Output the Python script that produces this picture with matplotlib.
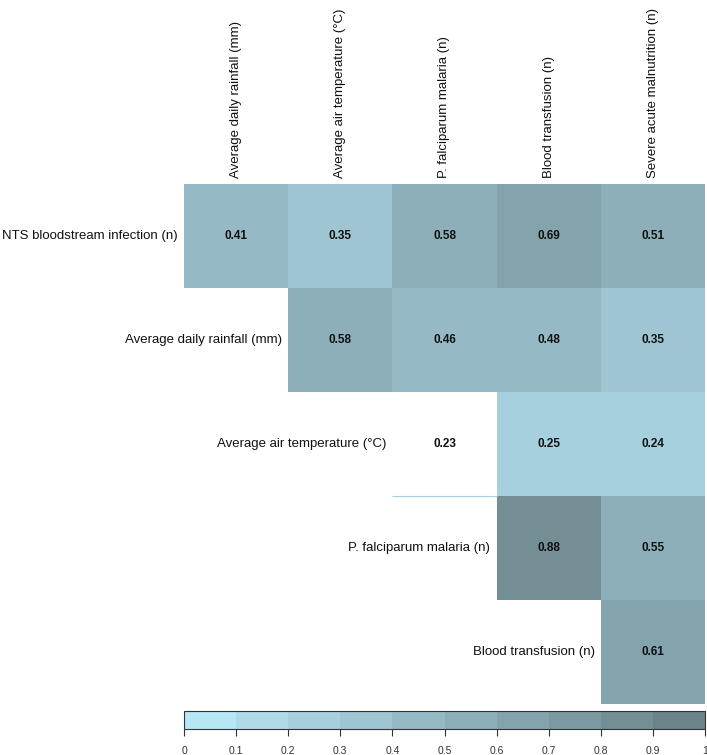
import numpy as np
import matplotlib
matplotlib.use("Agg")
import matplotlib.pyplot as plt
from matplotlib.colors import ListedColormap, BoundaryNorm
import matplotlib.colorbar as mcolorbar

plt.rcParams['font.family'] = ['Liberation Sans', 'DejaVu Sans']

row_labels = ["NTS bloodstream infection (n)", "Average daily rainfall (mm)",
              "Average air temperature (°C)", "P. falciparum malaria (n)",
              "Blood transfusion (n)"]
col_labels = ["Average daily rainfall (mm)", "Average air temperature (°C)",
              "P. falciparum malaria (n)", "Blood transfusion (n)",
              "Severe acute malnutrition (n)"]
values = [
    [0.41, 0.35, 0.58, 0.69, 0.51],
    [None, 0.58, 0.46, 0.48, 0.35],
    [None, None, 0.23, 0.25, 0.24],
    [None, None, None, 0.88, 0.55],
    [None, None, None, None, 0.61],
]
significant = [
    [True, True, True, True, True],
    [False, True, True, True, True],
    [False, False, False, True, True],
    [False, False, False, True, True],
    [False, False, False, False, True],
]
cbar_ticks = [0, 0.1, 0.2, 0.3, 0.4, 0.5, 0.6, 0.7, 0.8, 0.9, 1]
cbar_ticklabels = ["0", "0.1", "0.2", "0.3", "0.4", "0.5", "0.6", "0.7", "0.8", "0.9", "1"]

c0 = np.array([183, 230, 245]) / 255
c9 = np.array([107, 131, 137]) / 255
colors = [tuple(c0 + (c9 - c0) * i / 9) for i in range(10)]
cmap = ListedColormap(colors)
norm = BoundaryNorm(cbar_ticks, cmap.N)

W, H = 707, 755
fig = plt.figure(figsize=(W / 100, H / 100), dpi=100)
ax = fig.add_axes([184 / W, 1 - 704 / H, (705 - 184) / W, (704 - 184) / H])

nr, nc = len(row_labels), len(col_labels)
data = np.full((nr, nc), np.nan)
for i in range(nr):
    for j in range(nc):
        if values[i][j] is not None and significant[i][j]:
            data[i, j] = values[i][j]
masked = np.ma.masked_invalid(data)
ax.pcolormesh(np.arange(nc + 1), np.arange(nr + 1), masked, cmap=cmap, norm=norm,
              edgecolors='none', antialiased=False)
ax.set_xlim(0, nc)
ax.set_ylim(nr, 0)
ax.axis('off')

for i in range(nr):
    for j in range(nc):
        if values[i][j] is not None:
            ax.text(j + 0.5, i + 0.5, f"{values[i][j]:.2f}", ha='center', va='center',
                    fontsize=8.5, fontweight='bold', color='#111111')
    first = next(j for j in range(nc) if values[i][j] is not None)
    ax.text(first - 0.06, i + 0.5, row_labels[i], ha='right', va='center',
            fontsize=9.5, color='#111111', clip_on=False)

for j in range(nc):
    ax.text(j + 0.5, -0.06, col_labels[j], rotation=90, ha='center', va='bottom',
            fontsize=9.5, color='#111111', clip_on=False)

# faint residual edge under the non-significant cell
ax.plot([2, 3], [3, 3], color=colors[2], lw=0.8, solid_capstyle='butt')

cax = fig.add_axes([184 / W, 1 - 729 / H, (705 - 184) / W, 18 / H])
cb = mcolorbar.ColorbarBase(cax, cmap=cmap, norm=norm, orientation='horizontal',
                            boundaries=cbar_ticks, ticks=cbar_ticks)
cb.set_ticklabels(cbar_ticklabels)
cb.outline.set_edgecolor('#333333')
cb.outline.set_linewidth(0.8)
cax.tick_params(axis='x', length=5, width=0.8, labelsize=7.5, pad=7, colors='#333333')

fig.savefig("out.png", dpi=100)
